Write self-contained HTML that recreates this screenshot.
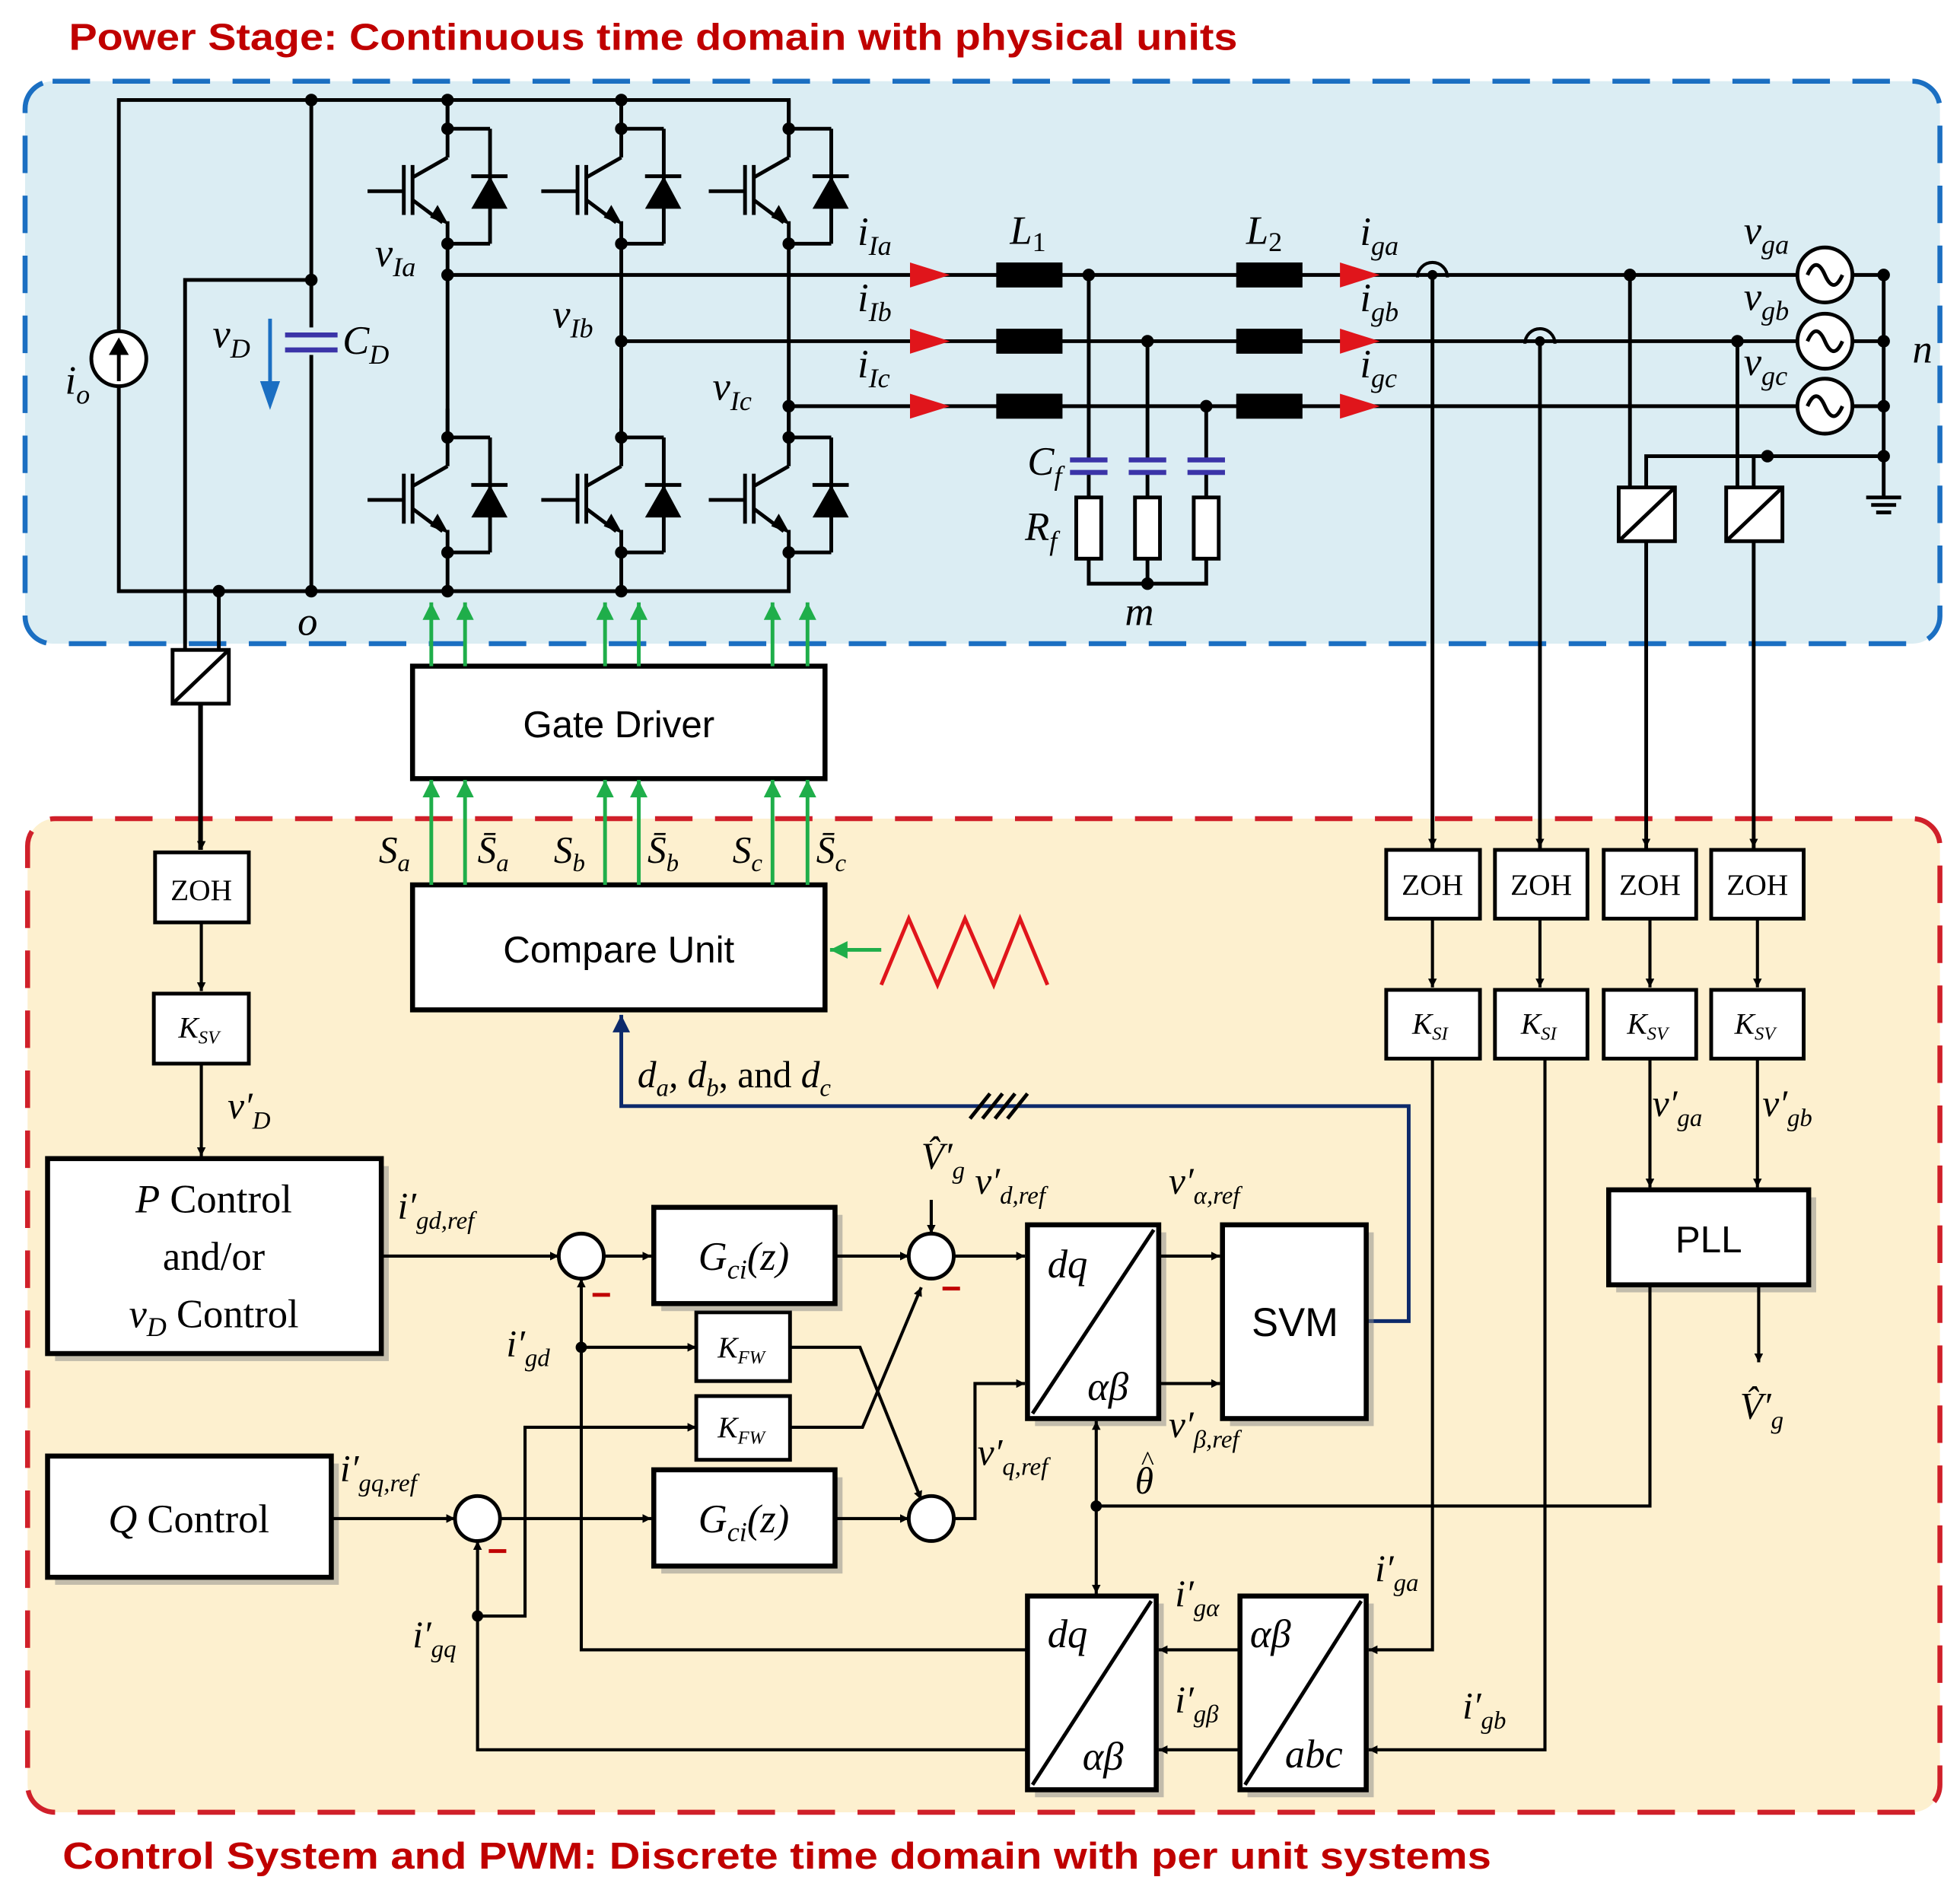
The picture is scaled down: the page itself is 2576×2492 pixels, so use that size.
<!DOCTYPE html>
<html><head><meta charset="utf-8"><style>
html,body{margin:0;padding:0;background:#fff}
svg{display:block}
text{font-family:"Liberation Serif",serif;font-style:italic;fill:#000}
.s{font-family:"Liberation Sans",sans-serif;font-style:normal}
</style></head><body>
<svg width="2576" height="2492" viewBox="0 0 1568 1517" xmlns="http://www.w3.org/2000/svg">
<defs>
<marker id="ah" viewBox="0 0 10 10" refX="10" refY="5" markerWidth="7" markerHeight="7" orient="auto" markerUnits="userSpaceOnUse"><path d="M0,0L10,5L0,10z" fill="#000"/></marker>
<marker id="ag" viewBox="0 0 10 10" refX="10" refY="5" markerWidth="14" markerHeight="14" orient="auto" markerUnits="userSpaceOnUse"><path d="M0,0L10,5L0,10z" fill="#1fae4a"/></marker>
<marker id="an" viewBox="0 0 10 10" refX="10" refY="5" markerWidth="14" markerHeight="16" orient="auto" markerUnits="userSpaceOnUse"><path d="M0,0L10,5L0,10z" fill="#0d2a6b"/></marker>
<g id="igbt" stroke="#000" stroke-width="3" fill="none">
<line x1="0" y1="-23" x2="0" y2="23"/>
<line x1="0" y1="0" x2="34" y2="0"/><line x1="34" y1="0" x2="34" y2="92"/><line x1="34" y1="92" x2="0" y2="92"/>
<line x1="0" y1="23" x2="-28" y2="39"/>
<line x1="-28" y1="57" x2="-4" y2="75"/><line x1="0" y1="74" x2="0" y2="92"/>
<line x1="-28" y1="29" x2="-28" y2="69"/><line x1="-35" y1="29" x2="-35" y2="69"/><line x1="-35" y1="50" x2="-64" y2="50"/>
<line x1="19" y1="38" x2="48" y2="38"/>
<path d="M19,64L34,38L48,64Z" fill="#000" stroke="none"/>
<path d="M-14,71L1,77L-8,61Z" fill="#000" stroke="none"/>
<circle cx="0" cy="0" r="5" fill="#000" stroke="none"/><circle cx="0" cy="92" r="5" fill="#000" stroke="none"/>
</g>
</defs>
<rect width="1568" height="1517" fill="#fff"/>
<text class="s" x="55" y="40" font-size="30" font-weight="bold" textLength="935" lengthAdjust="spacingAndGlyphs" style="fill:#c00000">Power Stage: Continuous time domain with physical units</text>
<rect x="20" y="65" width="1532" height="450" rx="22" fill="#dbedf3" stroke="#1b6fc2" stroke-width="4" stroke-dasharray="30,18"/>
<rect x="22" y="655" width="1530" height="795" rx="22" fill="#fdf0cf" stroke="#d0202a" stroke-width="4" stroke-dasharray="30,18"/>
<text class="s" x="50" y="1495" font-size="30" font-weight="bold" textLength="1143" lengthAdjust="spacingAndGlyphs" style="fill:#c00000">Control System and PWM: Discrete time domain with per unit systems</text>

<g stroke="#000" stroke-width="3" fill="none">
<path d="M95,265V80H631V103"/><path d="M95,309V473H631V440"/>
<line x1="249" y1="80" x2="249" y2="262"/><line x1="249" y1="284" x2="249" y2="473"/>
<path d="M249,224H148V520"/><path d="M175,473V520"/>
<line x1="358" y1="80" x2="358" y2="103"/><line x1="497" y1="80" x2="497" y2="103"/>
<line x1="358" y1="195" x2="358" y2="350"/><line x1="497" y1="195" x2="497" y2="350"/><line x1="631" y1="195" x2="631" y2="350"/>
<line x1="358" y1="440" x2="358" y2="473"/><line x1="497" y1="440" x2="497" y2="473"/>
<line x1="358" y1="220" x2="1507" y2="220"/><line x1="497" y1="273" x2="1507" y2="273"/><line x1="631" y1="325" x2="1507" y2="325"/>
<path d="M871,220V368M918,273V368M965,325V368"/>
<path d="M871,378V398M918,378V398M965,378V398"/>
<path d="M871,447V467H965V447M918,447V467"/>
<path d="M1146,220V680M1232,273V680"/>
<path d="M1304,220V390M1390,273V390"/>
<path d="M1317,390V365H1507M1403,390V365"/>
<path d="M1507,220V398"/><path d="M1493,398H1521M1497,404H1517M1501,410H1513"/>
<path d="M1317,433V680M1403,433V680"/>
<path d="M160,563V680"/>
</g>
<g stroke="#3b34a8" stroke-width="4"><line x1="228" y1="268" x2="270" y2="268"/><line x1="228" y1="280" x2="270" y2="280"/>
<line x1="856" y1="368" x2="886" y2="368"/><line x1="856" y1="378" x2="886" y2="378"/>
<line x1="903" y1="368" x2="933" y2="368"/><line x1="903" y1="378" x2="933" y2="378"/>
<line x1="950" y1="368" x2="980" y2="368"/><line x1="950" y1="378" x2="980" y2="378"/></g>
<g stroke="#000" stroke-width="3" fill="#fff"><rect x="861" y="398" width="20" height="49"/><rect x="908" y="398" width="20" height="49"/><rect x="955" y="398" width="20" height="49"/></g>
<line x1="216" y1="255" x2="216" y2="310" stroke="#1b6fc2" stroke-width="3"/><path d="M208,305L216,328L224,305Z" fill="#1b6fc2"/>
<circle cx="95" cy="287" r="22" fill="#fff" stroke="#000" stroke-width="3"/><line x1="95" y1="305" x2="95" y2="278" stroke="#000" stroke-width="3"/><path d="M87,284L95,270L103,284Z"/>
<use href="#igbt" x="358" y="103"/><use href="#igbt" x="497" y="103"/><use href="#igbt" x="631" y="103"/>
<use href="#igbt" x="358" y="350"/><use href="#igbt" x="497" y="350"/><use href="#igbt" x="631" y="350"/>
<g fill="#000">
<circle cx="249" cy="80" r="5"/><circle cx="358" cy="80" r="5"/><circle cx="497" cy="80" r="5"/>
<circle cx="249" cy="224" r="5"/><circle cx="249" cy="473" r="5"/><circle cx="175" cy="473" r="5"/><circle cx="358" cy="473" r="5"/><circle cx="497" cy="473" r="5"/>
<circle cx="358" cy="220" r="5"/><circle cx="497" cy="273" r="5"/><circle cx="631" cy="325" r="5"/>
<circle cx="871" cy="220" r="5"/><circle cx="918" cy="273" r="5"/><circle cx="965" cy="325" r="5"/><circle cx="918" cy="467" r="5"/>
<circle cx="1304" cy="220" r="5"/><circle cx="1390" cy="273" r="5"/><circle cx="1414" cy="365" r="5"/>
<circle cx="1507" cy="220" r="5"/><circle cx="1507" cy="273" r="5"/><circle cx="1507" cy="325" r="5"/><circle cx="1507" cy="365" r="5"/>
<circle cx="1146" cy="220" r="4"/><circle cx="1232" cy="273" r="4"/>
<rect x="797" y="210" width="53" height="20"/><rect x="797" y="263" width="53" height="20"/><rect x="797" y="315" width="53" height="20"/>
<rect x="989" y="210" width="53" height="20"/><rect x="989" y="263" width="53" height="20"/><rect x="989" y="315" width="53" height="20"/>
</g>
<g fill="#e0151b">
<path d="M728,210L760,220L728,230Z"/><path d="M728,263L760,273L728,283Z"/><path d="M728,315L760,325L728,335Z"/>
<path d="M1072,210L1104,220L1072,230Z"/><path d="M1072,263L1104,273L1072,283Z"/><path d="M1072,315L1104,325L1072,335Z"/>
</g>
<g fill="none" stroke="#000" stroke-width="2.5"><path d="M1134,222A12,12 0 0 1 1158,222"/><path d="M1220,275A12,12 0 0 1 1244,275"/></g>
<g fill="#fff" stroke="#000" stroke-width="3"><circle cx="1460" cy="220" r="22"/><circle cx="1460" cy="273" r="22"/><circle cx="1460" cy="325" r="22"/></g>
<g fill="none" stroke="#000" stroke-width="3"><path d="M1446,220q7,-16 14,0t14,0"/><path d="M1446,273q7,-16 14,0t14,0"/><path d="M1446,325q7,-16 14,0t14,0"/></g>
<g fill="#fff" stroke="#000" stroke-width="3"><rect x="138" y="520" width="45" height="43"/><rect x="1295" y="390" width="45" height="43"/><rect x="1381" y="390" width="45" height="43"/></g>
<g stroke="#000" stroke-width="3"><line x1="138" y1="563" x2="183" y2="520"/><line x1="1295" y1="433" x2="1340" y2="390"/><line x1="1381" y1="433" x2="1426" y2="390"/></g>
<g font-size="32">
<text x="52" y="315">i<tspan font-size="22" dy="8">o</tspan></text>
<text x="170" y="278">v<tspan font-size="22" dy="8">D</tspan></text>
<text x="274" y="283">C<tspan font-size="22" dy="8">D</tspan></text>
<text x="300" y="213">v<tspan font-size="22" dy="8">Ia</tspan></text>
<text x="442" y="262">v<tspan font-size="22" dy="8">Ib</tspan></text>
<text x="570" y="320">v<tspan font-size="22" dy="8">Ic</tspan></text>
<text x="686" y="196">i<tspan font-size="22" dy="8">Ia</tspan></text>
<text x="686" y="249">i<tspan font-size="22" dy="8">Ib</tspan></text>
<text x="686" y="302">i<tspan font-size="22" dy="8">Ic</tspan></text>
<text x="808" y="195">L<tspan font-size="22" dy="6" style="font-style:normal">1</tspan></text>
<text x="997" y="195">L<tspan font-size="22" dy="6" style="font-style:normal">2</tspan></text>
<text x="1088" y="196">i<tspan font-size="22" dy="8">ga</tspan></text>
<text x="1088" y="249">i<tspan font-size="22" dy="8">gb</tspan></text>
<text x="1088" y="302">i<tspan font-size="22" dy="8">gc</tspan></text>
<text x="822" y="380">C<tspan font-size="22" dy="8">f</tspan></text>
<text x="820" y="432">R<tspan font-size="22" dy="8">f</tspan></text>
<text x="900" y="500">m</text>
<text x="238" y="508">o</text>
<text x="1395" y="195">v<tspan font-size="22" dy="8">ga</tspan></text>
<text x="1395" y="248">v<tspan font-size="22" dy="8">gb</tspan></text>
<text x="1395" y="300">v<tspan font-size="22" dy="8">gc</tspan></text>
<text x="1530" y="290">n</text>
</g>

<g stroke="#000" stroke-width="4" fill="#fff"><rect x="330" y="533" width="330" height="90"/><rect x="330" y="708" width="330" height="100"/></g>
<text class="s" x="495" y="590" font-size="30" text-anchor="middle">Gate Driver</text>
<text class="s" x="495" y="770" font-size="30" text-anchor="middle">Compare Unit</text>
<g stroke="#1fae4a" stroke-width="3" marker-end="url(#ag)">
<line x1="345" y1="533" x2="345" y2="482"/><line x1="372" y1="533" x2="372" y2="482"/><line x1="484" y1="533" x2="484" y2="482"/><line x1="511" y1="533" x2="511" y2="482"/><line x1="618" y1="533" x2="618" y2="482"/><line x1="646" y1="533" x2="646" y2="482"/>
<line x1="345" y1="708" x2="345" y2="624"/><line x1="372" y1="708" x2="372" y2="624"/><line x1="484" y1="708" x2="484" y2="624"/><line x1="511" y1="708" x2="511" y2="624"/><line x1="618" y1="708" x2="618" y2="624"/><line x1="646" y1="708" x2="646" y2="624"/>
<line x1="705" y1="760" x2="664" y2="760"/>
</g>
<path d="M705,788L727,735L750,788L772,735L795,788L816,735L838,788" fill="none" stroke="#e0151b" stroke-width="3"/>
<g font-size="30">
<text x="303" y="690">S<tspan font-size="20" dy="7">a</tspan></text>
<text x="382" y="690">S̄<tspan font-size="20" dy="7">a</tspan></text>
<text x="443" y="690">S<tspan font-size="20" dy="7">b</tspan></text>
<text x="518" y="690">S̄<tspan font-size="20" dy="7">b</tspan></text>
<text x="586" y="690">S<tspan font-size="20" dy="7">c</tspan></text>
<text x="653" y="690">S̄<tspan font-size="20" dy="7">c</tspan></text>
</g>
<path d="M1093,1057H1127V885H497V812" fill="none" stroke="#0d2a6b" stroke-width="3" marker-end="url(#an)"/>
<g stroke="#000" stroke-width="3"><line x1="776" y1="895" x2="792" y2="875"/><line x1="786" y1="895" x2="802" y2="875"/><line x1="796" y1="895" x2="812" y2="875"/><line x1="806" y1="895" x2="822" y2="875"/></g>
<text x="510" y="870" font-size="30">d<tspan font-size="20" dy="7">a</tspan><tspan dy="-7">, d</tspan><tspan font-size="20" dy="7">b</tspan><tspan dy="-7" style="font-style:normal">, and </tspan><tspan>d</tspan><tspan font-size="20" dy="7">c</tspan></text>

<g fill="#fff" stroke="#000" stroke-width="3">
<rect x="124" y="682" width="75" height="56"/><rect x="123" y="795" width="76" height="56"/>
<rect x="1109" y="680" width="75" height="55"/><rect x="1196" y="680" width="74" height="55"/><rect x="1283" y="680" width="74" height="55"/><rect x="1369" y="680" width="74" height="55"/>
<rect x="1109" y="792" width="75" height="55"/><rect x="1196" y="792" width="74" height="55"/><rect x="1283" y="792" width="74" height="55"/><rect x="1369" y="792" width="74" height="55"/>
<rect x="557" y="1050" width="75" height="55"/><rect x="557" y="1117" width="75" height="51"/>
</g>
<g font-size="24" text-anchor="middle">
<text x="161" y="720" style="font-style:normal">ZOH</text>
<text x="1146" y="716" style="font-style:normal">ZOH</text><text x="1233" y="716" style="font-style:normal">ZOH</text><text x="1320" y="716" style="font-style:normal">ZOH</text><text x="1406" y="716" style="font-style:normal">ZOH</text>
</g>
<g font-size="24" text-anchor="middle">
<text x="159" y="830">K<tspan font-size="15" dy="5">SV</tspan></text>
<text x="1144" y="827">K<tspan font-size="15" dy="5">SI</tspan></text>
<text x="1231" y="827">K<tspan font-size="15" dy="5">SI</tspan></text>
<text x="1318" y="827">K<tspan font-size="15" dy="5">SV</tspan></text>
<text x="1404" y="827">K<tspan font-size="15" dy="5">SV</tspan></text>
<text x="593" y="1086">K<tspan font-size="15" dy="5">FW</tspan></text>
<text x="593" y="1150">K<tspan font-size="15" dy="5">FW</tspan></text>
</g>
<g fill="#888" opacity="0.5">
<rect x="44" y="933" width="267" height="156"/><rect x="44" y="1171" width="227" height="97"/>
<rect x="529" y="972" width="145" height="77"/><rect x="529" y="1182" width="145" height="77"/>
<rect x="828" y="986" width="105" height="155"/><rect x="984" y="986" width="115" height="155"/>
<rect x="1293" y="958" width="160" height="76"/>
<rect x="828" y="1283" width="103" height="155"/><rect x="998" y="1283" width="101" height="155"/>
</g>
<g fill="#fff" stroke="#000" stroke-width="4">
<rect x="38" y="927" width="267" height="156"/><rect x="38" y="1165" width="227" height="97"/>
<rect x="523" y="966" width="145" height="77"/><rect x="523" y="1176" width="145" height="77"/>
<rect x="822" y="980" width="105" height="155"/><rect x="978" y="980" width="115" height="155"/>
<rect x="1287" y="952" width="160" height="76"/>
<rect x="822" y="1277" width="103" height="155"/><rect x="992" y="1277" width="101" height="155"/>
</g>
<g stroke="#000" stroke-width="3"><line x1="826" y1="1131" x2="923" y2="984"/><line x1="826" y1="1428" x2="921" y2="1281"/><line x1="996" y1="1428" x2="1089" y2="1281"/></g>
<g font-size="32">
<text x="171" y="970" text-anchor="middle">P<tspan style="font-style:normal"> Control</tspan></text>
<text x="171" y="1016" text-anchor="middle" style="font-style:normal">and/or</text>
<text x="171" y="1062" text-anchor="middle">v<tspan font-size="22" dy="7">D</tspan><tspan dy="-7" style="font-style:normal"> Control</tspan></text>
<text x="151" y="1226" text-anchor="middle">Q<tspan style="font-style:normal"> Control</tspan></text>
<text x="595" y="1016" text-anchor="middle">G<tspan font-size="22" dy="7">ci</tspan><tspan dy="-7">(z)</tspan></text>
<text x="595" y="1226" text-anchor="middle">G<tspan font-size="22" dy="7">ci</tspan><tspan dy="-7">(z)</tspan></text>
<text x="838" y="1022">dq</text><text x="870" y="1120">αβ</text>
<text x="838" y="1318">dq</text><text x="866" y="1416">αβ</text>
<text x="1000" y="1318">αβ</text><text x="1028" y="1414">abc</text>
</g>
<text class="s" x="1036" y="1069" font-size="32" text-anchor="middle">SVM</text>
<text class="s" x="1367" y="1002" font-size="30" text-anchor="middle">PLL</text>
<g fill="#fff" stroke="#000" stroke-width="3"><circle cx="465" cy="1005" r="18"/><circle cx="745" cy="1005" r="18"/><circle cx="382" cy="1215" r="18"/><circle cx="745" cy="1215" r="18"/></g>
<g stroke="#c00000" stroke-width="3"><line x1="474" y1="1036" x2="488" y2="1036"/><line x1="754" y1="1031" x2="768" y2="1031"/><line x1="391" y1="1241" x2="405" y2="1241"/></g>
<g fill="none" stroke="#000" stroke-width="2.5" marker-end="url(#ah)">
<line x1="161" y1="738" x2="161" y2="793"/><line x1="161" y1="851" x2="161" y2="925"/><line x1="161" y1="563" x2="161" y2="680"/>
<line x1="1146" y1="736" x2="1146" y2="790"/><line x1="1232" y1="736" x2="1232" y2="790"/><line x1="1320" y1="736" x2="1320" y2="790"/><line x1="1406" y1="736" x2="1406" y2="790"/>
<line x1="1146" y1="560" x2="1146" y2="678"/><line x1="1232" y1="560" x2="1232" y2="678"/><line x1="1317" y1="560" x2="1317" y2="678"/><line x1="1403" y1="560" x2="1403" y2="678"/>
<line x1="1320" y1="848" x2="1320" y2="950"/><line x1="1406" y1="848" x2="1406" y2="950"/>
<line x1="1407" y1="1028" x2="1407" y2="1090"/>
<line x1="305" y1="1005" x2="447" y2="1005"/><line x1="483" y1="1005" x2="521" y2="1005"/><line x1="668" y1="1005" x2="727" y2="1005"/><line x1="763" y1="1005" x2="820" y2="1005"/>
<line x1="745" y1="960" x2="745" y2="987"/>
<line x1="927" y1="1005" x2="976" y2="1005"/><line x1="927" y1="1107" x2="976" y2="1107"/>
<line x1="265" y1="1215" x2="364" y2="1215"/><line x1="400" y1="1215" x2="521" y2="1215"/><line x1="668" y1="1215" x2="727" y2="1215"/>
<path d="M763,1215H780V1107H820"/>
<path d="M1146,848V1320H1095"/><path d="M1236,848V1400H1095"/>
<path d="M992,1320H927"/><path d="M992,1400H927"/>
<path d="M822,1320H465V1023"/><path d="M822,1400H382V1233"/>
<path d="M465,1078H557"/><path d="M632,1078H688L737,1200"/>
<path d="M382,1293H420V1142H557"/><path d="M632,1142H690L737,1030"/>
<path d="M1320,1028V1205H877V1137"/><path d="M877,1205V1275"/>
</g>
<g fill="#000"><circle cx="465" cy="1078" r="4.5"/><circle cx="382" cy="1293" r="4.5"/><circle cx="877" cy="1205" r="4.5"/></g>
<g font-size="30">
<text x="182" y="895">v′<tspan font-size="20" dy="8">D</tspan></text>
<text x="318" y="975">i′<tspan font-size="20" dy="8">gd,ref</tspan></text>
<text x="405" y="1085">i′<tspan font-size="20" dy="8">gd</tspan></text>
<text x="272" y="1185">i′<tspan font-size="20" dy="8">gq,ref</tspan></text>
<text x="330" y="1318">i′<tspan font-size="20" dy="8">gq</tspan></text>
<text x="737" y="935">V̂′<tspan font-size="20" dy="8">g</tspan></text>
<text x="780" y="955">v′<tspan font-size="20" dy="8">d,ref</tspan></text>
<text x="935" y="955">v′<tspan font-size="20" dy="8">α,ref</tspan></text>
<text x="935" y="1150">v′<tspan font-size="20" dy="8">β,ref</tspan></text>
<text x="782" y="1172">v′<tspan font-size="20" dy="8">q,ref</tspan></text>
<text x="908" y="1195">θ</text><text x="913" y="1176" font-size="22" style="font-style:normal">^</text>
<text x="940" y="1285">i′<tspan font-size="20" dy="8">gα</tspan></text>
<text x="940" y="1370">i′<tspan font-size="20" dy="8">gβ</tspan></text>
<text x="1100" y="1265">i′<tspan font-size="20" dy="8">ga</tspan></text>
<text x="1170" y="1375">i′<tspan font-size="20" dy="8">gb</tspan></text>
<text x="1322" y="893">v′<tspan font-size="20" dy="8">ga</tspan></text>
<text x="1410" y="893">v′<tspan font-size="20" dy="8">gb</tspan></text>
<text x="1392" y="1135">V̂′<tspan font-size="20" dy="8">g</tspan></text>
</g>
</svg>
</body></html>
